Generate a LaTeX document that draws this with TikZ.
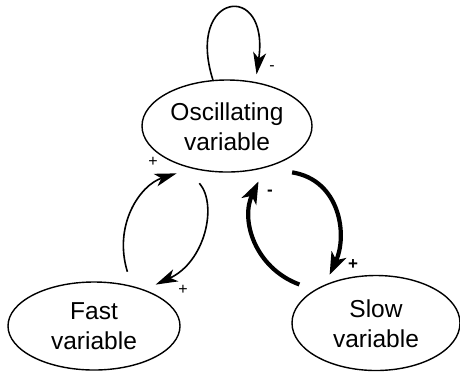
\documentclass[tikz,border=0pt]{standalone}
\usepackage{fontspec}
\setmainfont{Liberation Sans}
\usetikzlibrary{shapes.geometric,arrows.meta}
\begin{document}
\begin{tikzpicture}[x=0.5pt,y=-0.5pt,
  var/.style={draw,ellipse,line width=0.7pt,inner sep=0pt},
  vartext/.style={align=center,font=\fontsize{12.25}{14.8}\selectfont,inner sep=0pt},
  thinarr/.style={line width=0.8pt,-{Stealth[length=11pt,width=6.5pt,inset=3pt]}},
  thickarr/.style={line width=2.1pt,-{Stealth[length=11pt,width=8pt,inset=3pt]}},
  sign/.style={font=\fontsize{8}{8}\selectfont,inner sep=0pt},
  bsign/.style={font=\fontsize{8.5}{8.5}\bfseries\selectfont,inner sep=0pt}]
\useasboundingbox (0,0) rectangle (460,371);
% variables
\node[var,minimum width=85pt,minimum height=46pt] (osc) at (227,126) {};
\node[var,minimum width=86pt,minimum height=44pt] (fast) at (94,326) {};
\node[var,minimum width=84pt,minimum height=47.5pt] (slow) at (376,323) {};
\node[vartext] (osct) at (227,127) {Oscillating\\variable};
\node[vartext] (fastt) at (94,326) {Fast\\variable};
\node[vartext] (slowt) at (376,324) {Slow\\variable};
% self loop
\draw[thinarr] (osc.107) .. controls (185,-8) and (270,-20) .. ([shift={(-1,-8)}]osc.55);
% fast loop
\draw[thinarr] ([shift={(0,-13)}]fast.51.4) .. controls (113,225) and (140,185) .. ([shift={(1,10)}]osc.216);
\draw[thinarr] ([shift={(0,13)}]osc.238) .. controls (218,205) and (205,262) .. ([shift={(0,-10)}]fast.27);
% slow loop
\draw[thickarr] ([shift={(0,16)}]osc.335.5) .. controls (340,180) and (348,235) .. ([shift={(0,-8)}]slow.139);
\draw[thickarr] ([shift={(0,-18)}]slow.165) .. controls (255,268) and (240,220) .. ([shift={(0,12)}]osc.306);
% signs
\node[sign] (s1) at (272,68) {-};
\node[sign] (s2) at (153,162) {+};
\node[sign] (s3) at (183,290) {+};
\node[bsign] (s4) at (353,265) {+};
\node[bsign] (s5) at (270,193) {-};
\end{tikzpicture}
\end{document}
